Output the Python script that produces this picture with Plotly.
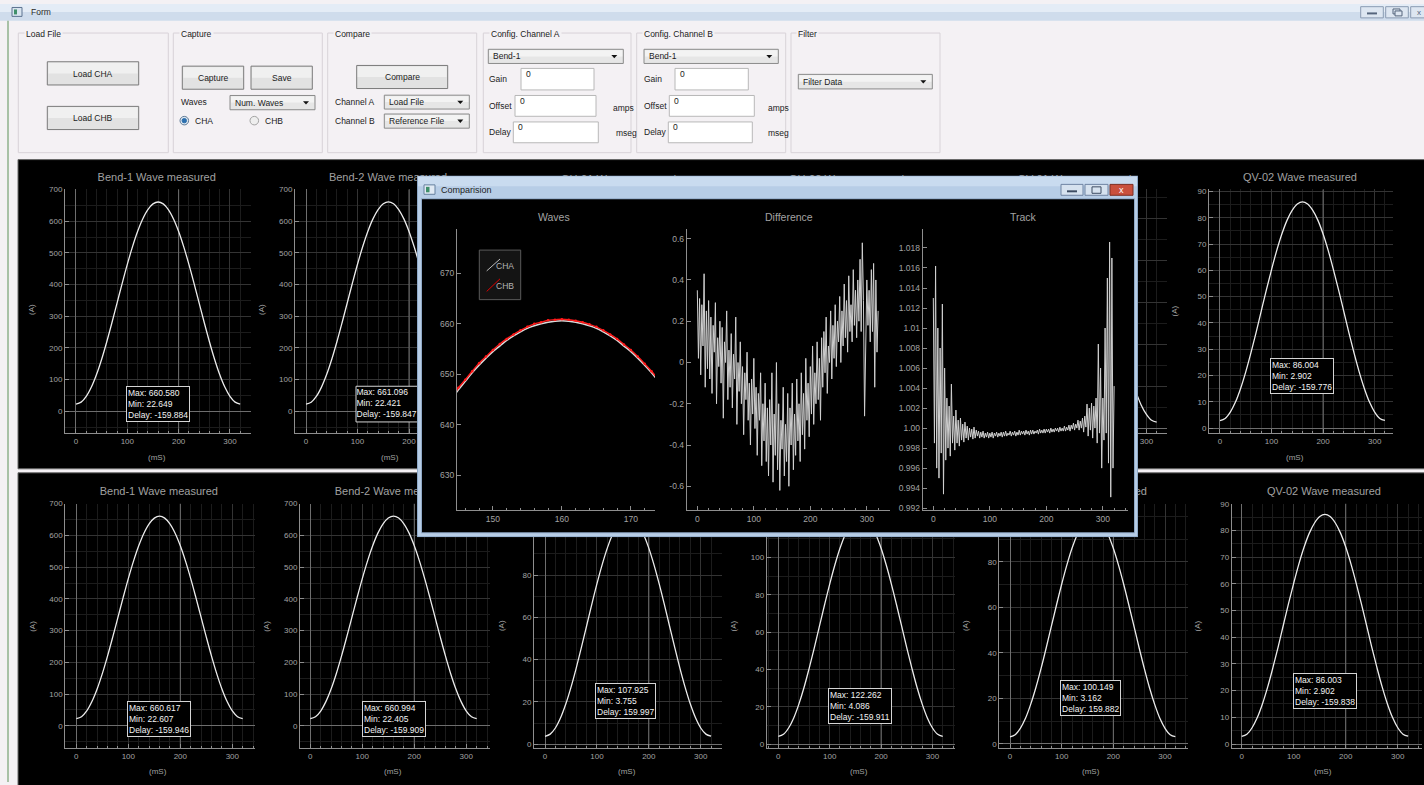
import plotly.graph_objects as go

W, H = 1424, 785
FONT = "Liberation Sans"
FORM_BG = "#f4f1f4"
AX = "#8e8e8e"
TICK = "#a3a3a3"
GRID = "#343434"
MINOR = "#1c1c1c"
BRIGHT = "#6e6e6e"
WAVE = "#ececec"


def fx(x):
    return x / W


def fy(y):
    return 1 - y / H


# ---------------- measured waveforms (A), one sample every 10 ms ----------------
wave_t_ms = list(range(0, 321, 10))

bend1_top = [22.649, 28.8, 47.0, 76.4, 116.0, 164.4, 219.6, 279.4, 341.6, 403.8, 463.6,
             518.8, 567.2, 606.8, 636.3, 654.5, 660.580, 654.5, 636.3, 606.8, 567.2, 518.8,
             463.6, 403.8, 341.6, 279.4, 219.6, 164.4, 116.0, 76.4, 47.0, 28.8, 22.7]
bend2_top = [22.421, 28.6, 46.8, 76.3, 115.9, 164.3, 219.6, 279.5, 341.8, 404.0, 463.9,
             519.2, 567.6, 607.2, 636.8, 654.9, 661.096, 654.9, 636.8, 607.2, 567.6, 519.2,
             463.9, 404.0, 341.8, 279.5, 219.6, 164.3, 115.9, 76.3, 46.8, 28.6, 22.5]
qv01_top = [3.2, 4.1, 6.9, 11.3, 17.4, 24.7, 33.1, 42.2, 51.7, 61.1, 70.2, 78.6, 86.0,
            92.0, 96.5, 99.2, 100.1, 99.2, 96.5, 92.0, 86.0, 78.6, 70.2, 61.1, 51.7, 42.2,
            33.1, 24.7, 17.4, 11.3, 6.9, 4.1, 3.2]
qv02_top = [2.902, 3.7, 6.1, 9.9, 15.1, 21.4, 28.6, 36.3, 44.5, 52.6, 60.3, 67.5, 73.8,
            79.0, 82.8, 85.2, 86.004, 85.2, 82.8, 79.0, 73.8, 67.5, 60.3, 52.6, 44.5, 36.3,
            28.6, 21.4, 15.1, 9.9, 6.1, 3.7, 2.95]
bend1_bot = [22.607, 28.7, 46.9, 76.4, 116.0, 164.4, 219.6, 279.4, 341.6, 403.8, 463.7,
             518.8, 567.2, 606.8, 636.3, 654.5, 660.617, 654.5, 636.3, 606.8, 567.2, 518.8,
             463.7, 403.8, 341.6, 279.4, 219.6, 164.4, 116.0, 76.4, 46.9, 28.7, 22.7]
bend2_bot = [22.405, 28.5, 46.7, 76.2, 115.9, 164.3, 219.5, 279.4, 341.7, 404.0, 463.9,
             519.1, 567.5, 607.2, 636.7, 654.9, 660.994, 654.9, 636.7, 607.2, 567.5, 519.1,
             463.9, 404.0, 341.7, 279.4, 219.5, 164.3, 115.9, 76.2, 46.7, 28.5, 22.5]
qh01_bot = [3.755, 4.8, 7.7, 12.5, 19.0, 26.9, 35.9, 45.7, 55.8, 66.0, 75.8, 84.8, 92.7,
            99.1, 104.0, 106.9, 107.925, 106.9, 104.0, 99.1, 92.7, 84.8, 75.8, 66.0, 55.8,
            45.7, 35.9, 26.9, 19.0, 12.5, 7.7, 4.8, 3.8]
qh02_bot = [4.086, 5.2, 8.6, 14.0, 21.4, 30.3, 40.6, 51.6, 63.2, 74.7, 85.8, 96.0, 105.0,
            112.3, 117.8, 121.1, 122.262, 121.1, 117.8, 112.3, 105.0, 96.0, 85.8, 74.7, 63.2,
            51.6, 40.6, 30.3, 21.4, 14.0, 8.6, 5.2, 4.1]
qv01_bot = [3.162, 4.1, 6.9, 11.3, 17.4, 24.7, 33.1, 42.2, 51.7, 61.1, 70.2, 78.6, 86.0,
            92.0, 96.5, 99.2, 100.149, 99.2, 96.5, 92.0, 86.0, 78.6, 70.2, 61.1, 51.7, 42.2,
            33.1, 24.7, 17.4, 11.3, 6.9, 4.1, 3.2]
qv02_bot = [2.902, 3.7, 6.1, 9.9, 15.1, 21.4, 28.6, 36.3, 44.5, 52.6, 60.3, 67.5, 73.8,
            79.0, 82.8, 85.2, 86.003, 85.2, 82.8, 79.0, 73.8, 67.5, 60.3, 52.6, 44.5, 36.3,
            28.6, 21.4, 15.1, 9.9, 6.1, 3.7, 2.95]

delay_ms = {
    "bend1_top": -159.884, "bend2_top": -159.847, "qv02_top": -159.776,
    "bend1_bot": -159.946, "bend2_bot": -159.909, "qh01_bot": 159.997,
    "qh02_bot": -159.911, "qv01_bot": 159.882, "qv02_bot": -159.838,
}

top_titles = ["Bend-1 Wave measured", "Bend-2 Wave measured", "QH-01 Wave measured",
              "QH-02 Wave measured", "QV-01 Wave measured", "QV-02 Wave measured"]
bottom_titles = ["Bend-1 Wave measured", "Bend-2 Wave measured",
                 "QV-01 Wave measured", "QV-02 Wave measured"]

# ---------------- comparison window data ----------------
cmp_t_ms = list(range(144, 175))
cmp_cha = [645.0, 646.9, 648.6, 650.3, 651.8, 653.2, 654.5, 655.6, 656.7, 657.6, 658.4,
           659.1, 659.6, 660.0, 660.3, 660.5, 660.6, 660.5, 660.3, 660.0, 659.6, 659.1,
           658.4, 657.6, 656.7, 655.6, 654.5, 653.2, 651.8, 650.3, 648.6]
cmp_chb = [645.3, 647.3, 648.9, 650.6, 652.2, 653.5, 654.8, 656.0, 657.0, 657.9, 658.7,
           659.4, 660.0, 660.3, 660.7, 660.8, 660.9, 660.8, 660.6, 660.3, 659.9, 659.4,
           658.7, 657.9, 657.0, 655.9, 654.8, 653.5, 652.1, 650.6, 648.9]

diff_t_ms = list(range(0, 321, 2))
diff_vals = [
    0.35, 0.02, 0.31, -0.06, 0.28, 0.08, 0.43, -0.12, 0.25, -0.03, 0.30,
    -0.08, 0.22, -0.15, 0.18, 0.05, 0.29, -0.20, 0.12, -0.02, 0.20,
    -0.10, 0.17, -0.27, 0.10, 0.00, 0.25, -0.18, 0.06, -0.12, 0.14,
    -0.22, 0.04, -0.08, 0.22, -0.30, 0.00, -0.14, 0.10, -0.20, -0.02,
    -0.35, -0.05, -0.18, 0.05, -0.28, -0.10, -0.40, -0.08, -0.25, 0.02,
    -0.32, -0.12, -0.45, -0.15, -0.28, -0.05, -0.50, -0.20, -0.38, -0.10,
    -0.48, -0.22, -0.55, -0.18, -0.40, -0.05, -0.58, -0.25, -0.45, 0.00,
    -0.52, -0.20, -0.62, -0.28, -0.42, -0.12, -0.55, -0.30, -0.48, -0.15,
    -0.60, -0.22, -0.40, -0.10, -0.52, -0.25, -0.45, -0.08, -0.38, -0.20,
    -0.48, -0.05, -0.35, -0.15, -0.42, 0.02, -0.28, -0.10, -0.36, -0.02,
    -0.25, 0.08, -0.30, -0.05, -0.20, 0.10, -0.18, 0.02, -0.28, 0.12,
    -0.12, 0.15, -0.05, 0.22, -0.15, 0.08, 0.00, 0.25, -0.08, 0.18,
    0.02, 0.28, -0.02, 0.20, 0.10, 0.32, 0.00, 0.25, 0.08, 0.38,
    0.12, 0.30, 0.05, 0.42, 0.15, 0.28, 0.10, 0.45, 0.18, 0.35,
    0.12, 0.40, 0.20, 0.50, 0.15, 0.58, 0.30, -0.26, 0.22, 0.40,
    0.18, 0.35, 0.10, 0.45, 0.15, 0.48, -0.12, 0.40, 0.05, 0.25,
]
track_vals = [
    1.0130, 0.9985, 1.0162, 0.9960, 1.0100, 0.9950, 1.0080, 0.9975, 1.0124, 0.9934, 1.0060,
    0.9968, 1.0030, 0.9980, 1.0022, 0.9972, 1.0044, 0.9985, 1.0012, 0.9978, 1.0018,
    0.9985, 1.0008, 0.9982, 1.0010, 0.9988, 1.0004, 0.9986, 1.0006, 0.9990, 1.0002,
    0.9988, 1.0000, 0.9991, 0.9999, 0.9989, 1.0001, 0.9990, 0.9998, 0.9992, 0.9997,
    0.9990, 0.9996, 0.9991, 0.9997, 0.9990, 0.9995, 0.9991, 0.9996, 0.9990, 0.9995,
    0.9991, 0.9996, 0.9990, 0.9995, 0.9992, 0.9996, 0.9991, 0.9995, 0.9992, 0.9996,
    0.9991, 0.9996, 0.9992, 0.9997, 0.9992, 0.9995, 0.9993, 0.9997, 0.9992, 0.9996,
    0.9993, 0.9997, 0.9992, 0.9996, 0.9993, 0.9998, 0.9993, 0.9997, 0.9994, 0.9997,
    0.9993, 0.9998, 0.9994, 0.9997, 0.9993, 0.9998, 0.9994, 0.9998, 0.9994, 0.9997,
    0.9995, 0.9998, 0.9994, 0.9999, 0.9995, 0.9998, 0.9995, 0.9999, 0.9995, 0.9999,
    0.9996, 0.9999, 0.9995, 1.0000, 0.9996, 0.9999, 0.9996, 1.0000, 0.9997, 1.0000,
    0.9996, 1.0001, 0.9997, 1.0000, 0.9997, 1.0002, 0.9997, 1.0001, 0.9998, 1.0003,
    0.9997, 1.0003, 0.9999, 1.0005, 0.9998, 1.0004, 1.0000, 1.0008, 0.9998, 1.0007,
    1.0000, 1.0010, 0.9996, 1.0012, 1.0001, 1.0024, 0.9992, 1.0020, 0.9998, 1.0025,
    0.9990, 1.0022, 1.0000, 1.0030, 0.9985, 1.0084, 0.9995, 1.0060, 0.9960, 1.0030,
    0.9988, 1.0100, 0.9995, 1.0150, 0.9965, 1.0186, 0.9931, 1.0170, 0.9960, 1.0042,
]
diff_ticks = [-0.6, -0.4, -0.2, 0, 0.2, 0.4, 0.6]
diff_ticktext = ["-0.6", "-0.4", "-0.2", "0", "0.2", "0.4", "0.6"]
track_ticks = [0.992, 0.994, 0.996, 0.998, 1.000, 1.002, 1.004, 1.006, 1.008, 1.010,
               1.012, 1.014, 1.016, 1.018]
track_ticktext = ["0.992", "0.994", "0.996", "0.998", "1.00", "1.002", "1.004", "1.006",
                  "1.008", "1.01", "1.012", "1.014", "1.016", "1.018"]

# ---------------------------------------------------------------------------------
fig = go.Figure()
shapes = []
annots = []
axes = {}


def names(n):
    if n == 1:
        return "xaxis", "yaxis", "x", "y"
    return f"xaxis{n}", f"yaxis{n}", f"x{n}", f"y{n}"


def rect(x0, y0, x1, y1, fill=None, line=None, lw=1, layer="below"):
    shapes.append(dict(type="rect", xref="paper", yref="paper",
                       x0=fx(x0), x1=fx(x1), y0=fy(y1), y1=fy(y0), layer=layer,
                       fillcolor=fill or "rgba(0,0,0,0)",
                       line=dict(color=line or "rgba(0,0,0,0)", width=lw if line else 0)))


def circle(cx, cy, r, fill, line, layer="below"):
    shapes.append(dict(type="circle", xref="paper", yref="paper",
                       x0=fx(cx - r), x1=fx(cx + r), y0=fy(cy + r), y1=fy(cy - r),
                       fillcolor=fill, line=dict(color=line, width=1), layer=layer))


def seg(x0, y0, x1, y1, color, w=1, layer="above"):
    shapes.append(dict(type="line", xref="paper", yref="paper", x0=fx(x0), x1=fx(x1),
                       y0=fy(y0), y1=fy(y1), line=dict(color=color, width=w), layer=layer))


def label(x, y, s, size=8.5, color="#1b1b1b", xanchor="left", bg=None, angle=0):
    a = dict(x=fx(x), y=fy(y), xref="paper", yref="paper", text=s, showarrow=False,
             xanchor=xanchor, yanchor="middle", textangle=angle, borderpad=0,
             font=dict(family=FONT, size=size, color=color))
    if bg:
        a["bgcolor"] = bg
        a["borderpad"] = 1
    annots.append(a)


# ---------------- form chrome ----------------
rect(0, 0, W, 8, fill="#e4ecf6")
rect(0, 8, W, 17, fill="#cfdcec")
rect(12, 3.5, 22, 12.5, fill="#d8e4ef", line="#5d7390")
rect(14, 5.5, 17, 10.5, fill="#3f8f6a")
label(30, 8.5, "Form", size=8.5, color="#2a2a2a")
for bx0, bx1 in [(1360.7, 1383.3), (1385.7, 1408.3), (1410.7, 1436)]:
    rect(bx0, 2.7, bx1, 14, fill="#dde6f1", line="#8a9bb2")
rect(1367, 8.5, 1377, 10.5, fill="#55657c")
rect(1393, 5, 1400, 10, line="#55657c")
rect(1395, 7, 1402, 12, fill="#dde6f1", line="#55657c")
label(1419, 8.5, "x", size=8, color="#55657c", xanchor="center")
seg(8, 17, 8, H, "#8fb18c", 1.5, layer="below")

# group boxes
groups = [(18.3, 168.3, "Load File"), (173.3, 322.3, "Capture"), (327.7, 476.7, "Compare"),
          (483.3, 631, "Config. Channel A"), (636.7, 785.7, "Config. Channel B"),
          (791, 940, "Filter")]
for gx0, gx1, gname in groups:
    rect(gx0, 29.3, gx1, 150, line="#d8d3d8")
    label(gx0 + 5.5, 30, gname, bg=FORM_BG)


def button(x0, y0, x1, y1, s):
    rect(x0, y0, x1, y1, fill="#e2e2e2", line="#7a7a7a")
    rect(x0 + 1, y0 + 1, x1 - 1, (y0 + y1) / 2, fill="#f0f0f0")
    label((x0 + x1) / 2, (y0 + y1) / 2 + 0.5, s, xanchor="center")


def combo(x0, y0, x1, y1, s):
    rect(x0, y0, x1, y1, fill="#e6e6e6", line="#8a8a8a")
    rect(x0 + 1, y0 + 1, x1 - 1, (y0 + y1) / 2, fill="#f3f3f3")
    label(x0 + 4, (y0 + y1) / 2, s)
    cx, cy = x1 - 9, (y0 + y1) / 2
    shapes.append(dict(type="path", xref="paper", yref="paper", layer="below",
                       path=f"M {fx(cx - 3)},{fy(cy - 1.5)} L {fx(cx + 3)},{fy(cy - 1.5)} "
                            f"L {fx(cx)},{fy(cy + 1.8)} Z",
                       fillcolor="#111111", line=dict(width=0)))


def edit(x0, y0, x1, y1):
    rect(x0, y0, x1, y1, fill="#ffffff", line="#b8b8b8")
    label(x0 + 4, y0 + 5.5, "0")


button(47.3, 58.3, 138.7, 81.7, "Load CHA")
button(47.3, 103.3, 138.7, 126.7, "Load CHB")
button(182.3, 62.7, 243.7, 86, "Capture")
button(251, 62.7, 312.3, 86, "Save")
button(356.7, 62, 447.7, 85.3, "Compare")

label(180, 99.3, "Waves")
combo(230, 92.3, 315, 106.7, "Num. Waves")
circle(184.3, 117.7, 4.3, "#dde7f0", "#5f7a96")
circle(184.3, 117.7, 2.2, "#2c6fae", "#2c6fae")
label(194.3, 118, "CHA")
circle(254.3, 117.7, 4.3, "#eeeeee", "#a3a3a3")
label(264, 118, "CHB")

label(334, 99.3, "Channel A")
label(334, 118.3, "Channel B")
combo(384.3, 92, 469.3, 106, "Load File")
combo(384.3, 111, 469.3, 125.3, "Reference File")

# two channel configuration boxes: (combo span, label x, gain/offset/delay edits, unit x)
channel_cfg = [
    ((488.3, 623.3), 488.3, (521, 594), (515, 596), (513.3, 598.3), 611.7, 615),
    ((644, 778.3), 643.3, (675, 748.3), (669.3, 754.3), (668.3, 752.3), 766.7, 767.3),
]
for (c0, c1), lx, (g0, g1), (o0, o1), (d0, d1), ax_, mx_ in channel_cfg:
    combo(c0, 45.7, c1, 60, "Bend-1")
    label(lx, 76, "Gain")
    label(lx, 103.3, "Offset")
    label(lx, 129.3, "Delay")
    edit(g0, 65, g1, 86.7)
    edit(o0, 92.3, o1, 113.3)
    edit(d0, 119, d1, 140)
    label(ax_, 105, "amps")
    label(mx_, 130, "mseg")

combo(798.3, 71, 932.3, 85.7, "Filter Data")

# black scope panels
rect(18, 157, W + 2, 469, fill="#000000", line="#6a6a6a")
rect(18, 473, W + 2, W, fill="#000000", line="#6a6a6a")

# ---------------- subplot 1: full-canvas layer for panel titles ----------------
axes["xaxis"] = dict(domain=[0, 1], range=[0, W], visible=False, fixedrange=True)
axes["yaxis"] = dict(domain=[0, 1], range=[H, 0], visible=False, fixedrange=True)
fig.add_trace(go.Scatter(
    x=[156.7, 388, 618.5, 846.5, 1074.5, 1300] + [158.8, 393.8, 1090, 1324],
    y=[176, 176, 177.5, 177.5, 177.5, 176] + [492.3] * 4, mode="text",
    text=top_titles + bottom_titles,
    textfont=dict(family=FONT, size=11, color="#a0a0a0"), textposition="middle center",
    xaxis="x", yaxis="y", hoverinfo="skip", showlegend=False, cliponaxis=False))

# ---------------- scope panels ----------------
panels = [
    dict(n=2, key="bend1_top", vals=bend1_top, dom=(65, 187, 251, 433), xr=(-21.4, 341),
         yr=(-69, 700.5), dy=100, ymax=700, box=(158, 403.7), ylab=(31.7, 308), xlab=(156.7, 457.3)),
    dict(n=3, key="bend2_top", vals=bend2_top, dom=(295, 187, 481, 433), xr=(-21.4, 339.8),
         yr=(-69, 700.5), dy=100, ymax=700, box=None, ylab=(261.7, 308), xlab=(390, 457.3)),
    dict(n=4, key=None, vals=qv01_top, dom=(981, 187, 1167, 433), xr=(-21.3, 340),
         yr=(-2, 114), dy=20, ymax=100, box=None, ylab=None, xlab=None),
    dict(n=5, key="qv02_top", vals=qv02_top, dom=(1209, 187, 1393, 433), xr=(-21.3, 335.6),
         yr=(-1.9, 90.8), dy=10, ymax=90, box=(1301.5, 375), ylab=(1174.3, 310), xlab=(1295, 457.3)),
    dict(n=6, key="bend1_bot", vals=bend1_bot, dom=(65.3, 504, 255.3, 751), xr=(-21.2, 344.2),
         yr=(-70.8, 700.5), dy=100, ymax=700, box=(159.2, 721.3), ylab=(31.7, 627.7), xlab=(157.7, 774.3)),
    dict(n=7, key="bend2_bot", vals=bend2_bot, dom=(300, 504, 490, 751), xr=(-19.8, 345.6),
         yr=(-70.8, 700.5), dy=100, ymax=700, box=(393.5, 721.3), ylab=(265.7, 627.7), xlab=(392.7, 774.3)),
    dict(n=8, key="qh01_bot", vals=qh01_bot, dom=(534, 504, 722, 751), xr=(-21.2, 341),
         yr=(-1.9, 113.8), dy=20, ymax=80, box=(625.2, 703.5), ylab=(501, 627.7), xlab=(626.7, 774.3)),
    dict(n=9, key="qh02_bot", vals=qh02_bot, dom=(766.7, 504, 955, 751), xr=(-22.6, 343.8),
         yr=(-2.3, 129), dy=20, ymax=100, box=(860, 708.3), ylab=(733.3, 627.7), xlab=(859, 774.3)),
    dict(n=10, key="qv01_bot", vals=qv01_bot, dom=(999.3, 504, 1187.7, 751), xr=(-20.7, 343.9),
         yr=(-1.9, 105.7), dy=20, ymax=80, box=(1090.2, 699.8), ylab=(965, 627.7), xlab=(1091, 774.3)),
    dict(n=11, key="qv02_bot", vals=qv02_bot, dom=(1231.7, 504, 1421.7, 751), xr=(-19.2, 346),
         yr=(-1.6, 90.1), dy=10, ymax=90, box=(1324.8, 692.7), ylab=(1197.3, 627.7), xlab=(1323.3, 774.3)),
]


def stats_text(vals, key):
    return (f"Max: {max(vals):.3f}<br>Min: {min(vals):.3f}<br>"
            f"Delay: {delay_ms[key]:.3f}")


for p in panels:
    xa, ya, xr_, yr_ = names(p["n"])
    L, T, R, B = p["dom"]
    tick_font = dict(family=FONT, size=8, color=TICK)
    yt = list(range(0, p["ymax"] + 1, p["dy"]))
    axes[xa] = dict(domain=[fx(L), fx(R)], range=list(p["xr"]), anchor=yr_, fixedrange=True,
                    showline=True, linecolor=AX, linewidth=1, ticks="inside", ticklen=4,
                    tickcolor=AX, tick0=0, dtick=100, showgrid=True, gridcolor=GRID,
                    zeroline=True, zerolinecolor=BRIGHT, zerolinewidth=1, tickfont=tick_font,
                    minor=dict(dtick=20, tick0=0, showgrid=True, gridcolor=MINOR, ticks="inside",
                               ticklen=2, tickcolor=AX))
    axes[ya] = dict(domain=[fy(B), fy(T)], range=list(p["yr"]), anchor=xr_, fixedrange=True,
                    showline=True, linecolor=AX, linewidth=1, ticks="inside", ticklen=4,
                    tickcolor=AX, tickmode="array", tickvals=yt, showgrid=True, gridcolor=GRID,
                    zeroline=True, zerolinecolor=BRIGHT, zerolinewidth=1, tickfont=tick_font,
                    minor=dict(tick0=0, dtick=p["dy"] / 2, showgrid=True, gridcolor=MINOR))
    # brighter major grid line at 200 ms
    fig.add_trace(go.Scatter(x=[200, 200], y=list(p["yr"]), mode="lines",
                             line=dict(color=BRIGHT, width=1), xaxis=xr_, yaxis=yr_,
                             hoverinfo="skip", showlegend=False))
    fig.add_trace(go.Scatter(x=wave_t_ms, y=p["vals"], mode="lines",
                             line=dict(color=WAVE, width=1.3, shape="spline"),
                             xaxis=xr_, yaxis=yr_, hoverinfo="skip", showlegend=False))
    if p["box"]:
        annots.append(dict(x=fx(p["box"][0]), y=fy(p["box"][1]), xref="paper", yref="paper",
                           text=stats_text(p["vals"], p["key"]), showarrow=False, align="left",
                           xanchor="center", yanchor="middle", bgcolor="#000000",
                           bordercolor="#d4d4d4", borderwidth=1, borderpad=1,
                           font=dict(family=FONT, size=8.5, color="#f2f2f2")))
    if p["ylab"]:
        label(p["ylab"][0], p["ylab"][1], "(A)", size=8, color=TICK, xanchor="center", angle=-90)
    if p["xlab"]:
        label(p["xlab"][0], p["xlab"][1], "(mS)", size=8, color=TICK, xanchor="center")

    if p["n"] == 3:
        # statistics box of this panel sits partly under the comparison window,
        # so it is drawn inside the panel's own layer
        def to_data(px_x, px_y):
            dx = p["xr"][0] + (px_x - L) / (R - L) * (p["xr"][1] - p["xr"][0])
            dy = p["yr"][0] + (B - px_y) / (B - T) * (p["yr"][1] - p["yr"][0])
            return dx, dy
        bx0, by0 = to_data(356, 421.7)
        bx1, by1 = to_data(420.6, 385.7)
        fig.add_trace(go.Scatter(x=[bx0, bx1, bx1, bx0, bx0], y=[by0, by0, by1, by1, by0],
                                 mode="lines", fill="toself", fillcolor="#000000",
                                 line=dict(color="#d4d4d4", width=1), xaxis=xr_, yaxis=yr_,
                                 hoverinfo="skip", showlegend=False))
        tx, ty = to_data(356.5, 403.7)
        fig.add_trace(go.Scatter(x=[tx], y=[ty], mode="text",
                                 text=[stats_text(p["vals"], p["key"])],
                                 textposition="middle right",
                                 textfont=dict(family=FONT, size=8.5, color="#f2f2f2"),
                                 xaxis=xr_, yaxis=yr_, hoverinfo="skip", showlegend=False))

# ---------------- comparison window (subplot 12 = frame) ----------------
WL, WT, WR, WB = 417, 173, 1138, 538
axes["xaxis12"] = dict(domain=[fx(WL), fx(WR)], range=[WL, WR], visible=False,
                       anchor="y12", fixedrange=True)
axes["yaxis12"] = dict(domain=[fy(WB), fy(WT)], range=[WB, WT], visible=False,
                       anchor="x12", fixedrange=True)


def frame_rect(x0, y0, x1, y1, color):
    fig.add_trace(go.Scatter(x=[x0, x1, x1, x0, x0], y=[y0, y0, y1, y1, y0], mode="lines",
                             fill="toself", fillcolor=color, line=dict(width=0, color=color),
                             xaxis="x12", yaxis="y12", hoverinfo="skip", showlegend=False))


frame_rect(WL, WT, WR, WB, "#8ea9c8")
frame_rect(WL + 1, WT + 1, WR - 1, WB - 1, "#b7cde6")
frame_rect(WL + 1, WT + 1, WR - 1, WT + 11, "#c9dbef")
frame_rect(421, 196, 1135, 534, "#90a9c6")
frame_rect(422, 197, 1134, 533, "#000000")

# window title bar content
rect(424, 182.5, 435, 192, fill="#e0e9f3", line="#66809e", layer="above")
rect(426, 184.5, 429.5, 190, fill="#3f8f6a", layer="above")
label(440, 187.5, "Comparision", size=9, color="#1e1e1e")
rect(1061, 182, 1083, 193, fill="#d6e2ef", line="#6f84a3", layer="above")
rect(1067, 188, 1077, 190, fill="#3d4c63", layer="above")
rect(1085, 182, 1108, 193, fill="#d6e2ef", line="#6f84a3", layer="above")
rect(1092, 184.5, 1101, 191, line="#3d4c63", layer="above")
rect(1110, 182, 1133, 193, fill="#c9503d", line="#7c2e22", layer="above")
label(1121.5, 187.5, "x", size=9, color="#ffffff", xanchor="center")

# window plot titles
label(554, 215, "Waves", size=10.5, color=TICK, xanchor="center")
label(788.5, 215, "Difference", size=10.5, color=TICK, xanchor="center")
label(1023.3, 215, "Track", size=10.5, color=TICK, xanchor="center")


def win_axes(n, dom, xr, yr, xdtick, xminor, ydtick=None, yvals=None, ytext=None):
    xa, ya, xr_, yr_ = names(n)
    L, T, R, B = dom
    tf = dict(family=FONT, size=8.5, color=TICK)
    axes[xa] = dict(domain=[fx(L), fx(R)], range=list(xr), anchor=yr_, fixedrange=True,
                    showline=True, linecolor=AX, linewidth=1, ticks="inside", ticklen=4,
                    tickcolor=AX, tick0=0, dtick=xdtick, showgrid=False, zeroline=False,
                    tickfont=tf, minor=dict(dtick=xminor, tick0=0, ticks="inside", ticklen=2,
                                            tickcolor=AX, showgrid=False))
    ycfg = dict(domain=[fy(B), fy(T)], range=list(yr), anchor=xr_, fixedrange=True,
                showline=True, linecolor=AX, linewidth=1, ticks="inside", ticklen=4,
                tickcolor=AX, showgrid=False, zeroline=False, tickfont=tf)
    if yvals is not None:
        ycfg.update(tickmode="array", tickvals=yvals, ticktext=ytext)
    else:
        ycfg.update(tick0=0, dtick=ydtick)
    axes[ya] = ycfg
    return xr_, yr_


wx, wy = win_axes(13, (457, 227, 655, 511), (144.8, 173.5), (623, 678.8), 10, 2, ydtick=10)
fig.add_trace(go.Scatter(x=cmp_t_ms, y=cmp_cha, mode="lines",
                         line=dict(color="#d9d9d9", width=1.6, shape="spline"),
                         xaxis=wx, yaxis=wy, hoverinfo="skip", showlegend=False))
fig.add_trace(go.Scatter(x=cmp_t_ms, y=cmp_chb, mode="lines+markers",
                         line=dict(color="#ff1a1a", width=1.4, shape="spline"),
                         marker=dict(color="#ff1a1a", size=2.5),
                         xaxis=wx, yaxis=wy, hoverinfo="skip", showlegend=False))

dx_, dy_ = win_axes(14, (686.7, 227, 890, 511), (-18.8, 341), (-0.717, 0.647), 100, 20,
                    yvals=diff_ticks, ytext=diff_ticktext)
fig.add_trace(go.Scatter(x=diff_t_ms, y=diff_vals, mode="lines",
                         line=dict(color="#cfcfcf", width=1),
                         xaxis=dx_, yaxis=dy_, hoverinfo="skip", showlegend=False))

tx_, ty_ = win_axes(15, (922.7, 227, 1127.7, 511), (-18.8, 344), (0.99177, 1.0199), 100, 20,
                    yvals=track_ticks, ytext=track_ticktext)
fig.add_trace(go.Scatter(x=diff_t_ms, y=track_vals, mode="lines",
                         line=dict(color="#cfcfcf", width=1),
                         xaxis=tx_, yaxis=ty_, hoverinfo="skip", showlegend=False))

# legend of the Waves plot
rect(479.3, 248.3, 520.7, 298.3, fill="#141414", line="#5a5a5a", layer="above")
seg(486.7, 269.3, 500, 257.3, "#bdbdbd", 1)
seg(486.7, 290, 500, 277.3, "#e00000", 1)
label(495, 264, "CHA", size=8.5, color="#b5b5b5")
label(495, 284.5, "CHB", size=8.5, color="#b5b5b5")

fig.update_layout(width=W, height=H, margin=dict(l=0, r=0, t=0, b=0), autosize=False,
                  paper_bgcolor=FORM_BG, plot_bgcolor="rgba(0,0,0,0)", showlegend=False,
                  shapes=shapes, annotations=annots, hovermode=False, **axes)

fig.write_html("out.html", config={"displayModeBar": False})
